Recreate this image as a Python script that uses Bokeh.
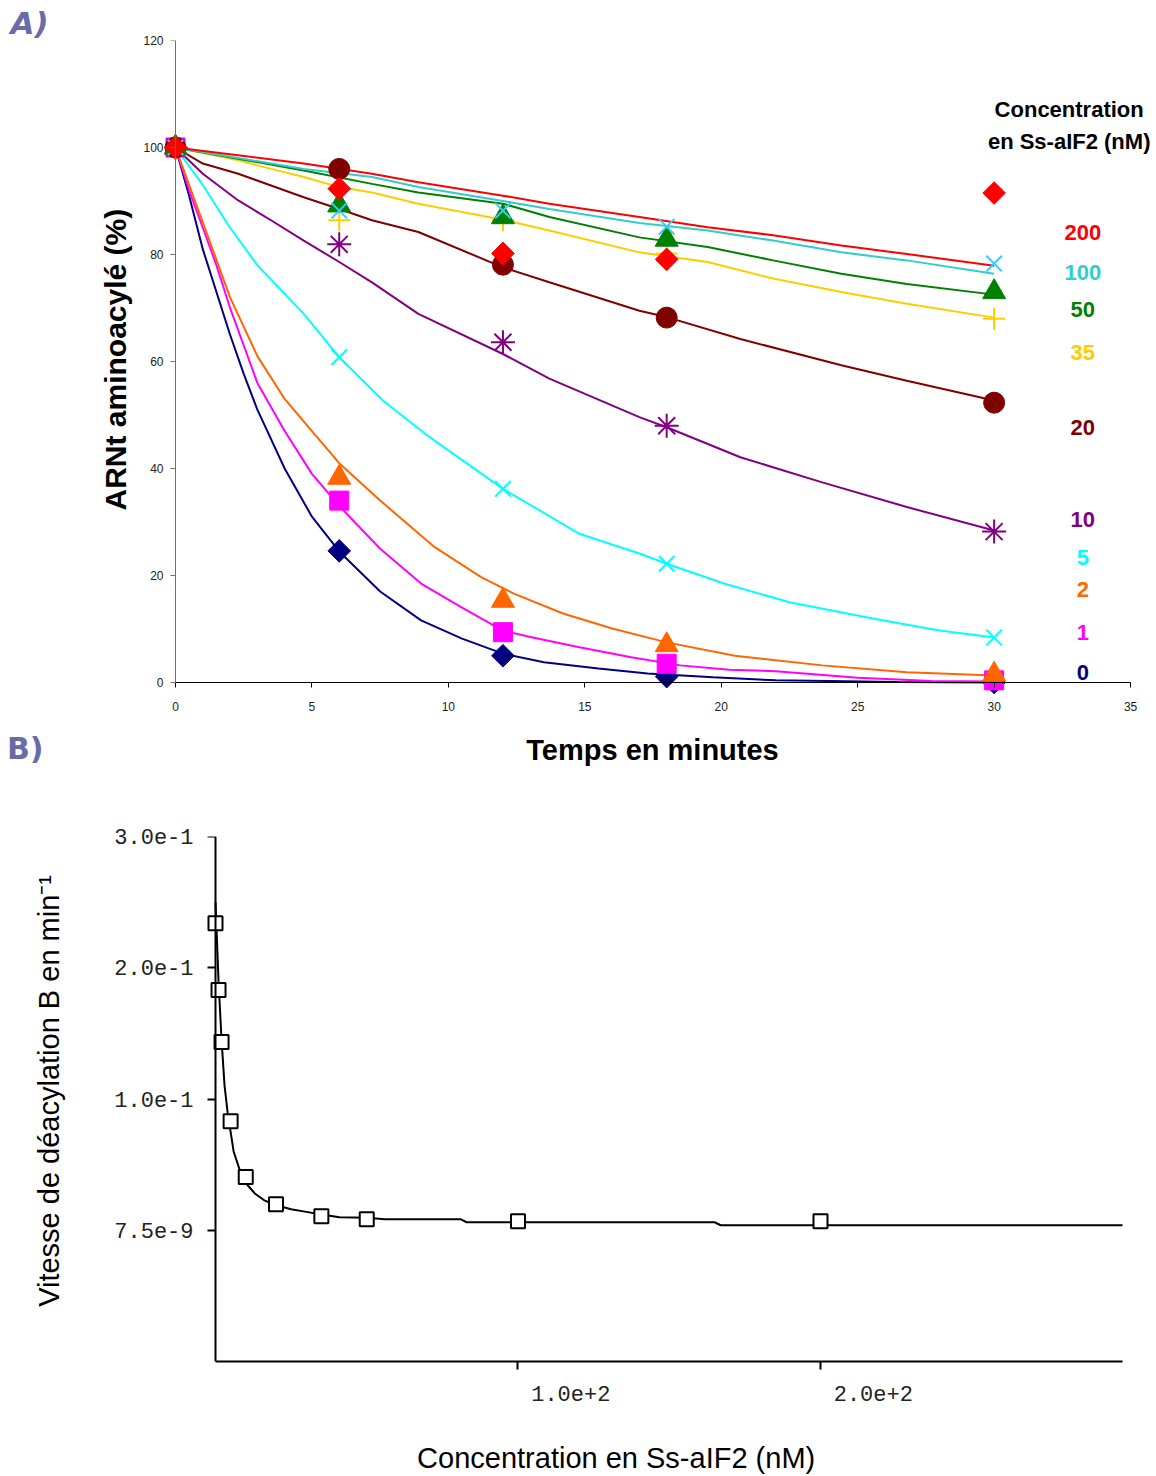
import math
from bokeh.plotting import figure
from bokeh.models import Range1d, FixedTicker, Label, LinearAxis, Title
from bokeh.embed import file_html
from bokeh.resources import INLINE

# ---------------- Data: panel A (remaining aminoacylated tRNA, %) ----------------
times = [0, 6, 12, 18, 30]
conc_labels = ["0", "1", "2", "5", "10", "20", "35", "50", "100", "200"]

obs_0 = [100, 24.6, 5.0, 1.1, 0.0]
obs_1 = [100, 34.0, 9.4, 3.5, 0.4]
obs_2 = [100, 38.3, 15.3, 7.0, 1.5]
obs_5 = [100, 60.8, 36.2, 22.2, 8.4]
obs_10 = [100, 81.9, 63.6, 48.0, 28.2]
obs_20 = [100, 96.0, 78.1, 68.2, 52.3]
obs_35 = [100, 86.4, 86.4, 80.2, 68.0]
obs_50 = [100, 89.2, 87.0, 82.8, 73.0]
obs_100 = [100, 88.2, 88.2, 85.2, 78.3]
obs_200 = [100, 92.3, 80.2, 79.1, 91.5]

fit_t_0 = [0, 0.5, 1, 1.5, 2, 2.5, 3, 4, 5, 6, 7.5, 9, 10.5, 12, 13.5, 15.5, 17.3, 19.7, 22, 26.5, 30]
fit_v_0 = [100, 91, 81, 73, 65, 57.7, 51, 40, 31, 24.5, 17, 11.6, 8.2, 5.4, 3.8, 2.6, 1.7, 1.0, 0.4, 0.1, 0]
fit_t_1 = [0, 0.5, 1, 1.5, 2, 3, 4, 5, 6, 7.5, 9, 10.5, 12, 13, 14.8, 16.7, 18.5, 20.3, 22, 25, 27.7, 30]
fit_v_1 = [100, 92, 85, 78, 70, 56, 47, 39, 33, 25, 18.5, 14, 9.7, 8.5, 6.6, 4.7, 3.2, 2.4, 2.1, 0.9, 0.3, 0.2]
fit_t_2 = [0, 1, 2, 3, 4, 5, 6, 7.5, 9.5, 11.2, 12.4, 14.2, 16, 18, 20.5, 23.7, 26.8, 30]
fit_v_2 = [100, 86, 72, 61, 53, 47, 41, 34, 25.3, 19.7, 16.6, 12.9, 10.1, 7.5, 5.0, 3.2, 1.9, 1.3]
fit_t_5 = [0, 1, 2, 3, 4.7, 6, 7.6, 9.3, 12, 14.8, 17, 18, 20.1, 22.5, 25.6, 28, 30]
fit_v_5 = [100, 93, 85, 78, 68.9, 60.8, 52.7, 45.9, 36.2, 27.8, 24.1, 22.2, 18.5, 15, 11.9, 9.7, 8.4]
fit_t_10 = [0, 1, 2.3, 3.5, 4.7, 6, 7.2, 8.9, 12, 13.7, 17, 18, 20.7, 23.7, 26.8, 30]
fit_v_10 = [100, 95.1, 90.1, 86.4, 82.6, 78.6, 74.8, 68.9, 61.4, 56.8, 49.6, 47.7, 42.1, 37.4, 32.8, 28.4]
fit_t_20 = [0, 1, 2.3, 3.5, 4.7, 6, 7.2, 8.9, 12, 13.7, 17, 18, 20.7, 24.4, 26.8, 30]
fit_v_20 = [100, 97, 95.1, 92.9, 90.7, 88.5, 86.4, 84.2, 77.6, 74.8, 69.5, 68.3, 64.2, 59.3, 56.4, 52.7]
fit_t_35 = [0, 2.3, 3.5, 4.7, 6, 7.2, 8.9, 12, 13.7, 17, 19.5, 21.9, 24.4, 26.8, 30]
fit_v_35 = [100, 97.6, 96, 94.5, 92.6, 91.6, 89.5, 86.5, 84.5, 80.4, 78.6, 75.5, 73, 70.8, 68.2]
fit_t_50 = [0, 2.3, 4.7, 7.2, 8.9, 12, 13.7, 17, 19.5, 21.9, 24.4, 26.8, 30]
fit_v_50 = [100, 97.9, 95.7, 93.2, 91.6, 89.5, 87, 83.2, 81.4, 78.9, 76.4, 74.5, 72.5]
fit_t_100 = [0, 4.7, 7.2, 8.9, 12, 13.7, 17, 19.5, 21.9, 24.4, 26.8, 30]
fit_v_100 = [100, 96, 94.5, 92.6, 90, 88.5, 85.9, 84.5, 82.6, 80.4, 78.9, 76.4]
fit_t_200 = [0, 4.7, 7.2, 8.9, 12, 13.7, 17, 19.5, 21.9, 24.4, 26.8, 30]
fit_v_200 = [100, 97, 95.1, 93.5, 91, 89.5, 87, 85.1, 83.6, 81.7, 80.1, 77.9]

x_ticks_a = [0, 5, 10, 15, 20, 25, 30, 35]
y_ticks_a = [0, 20, 40, 60, 80, 100, 120]

# ---------------- Data: panel B (deacylation rate vs concentration) ----------------
conc_b = [0, 1, 2, 5, 10, 20, 35, 50, 100, 200]
rate_b = [0.234, 0.183, 0.1435, 0.083, 0.0406, 0.0198, 0.0107, 0.0084, 0.0069, 0.0069]
curve_c = [0, 1, 2, 3, 4, 5, 6, 8, 10, 13, 16, 20, 25, 30, 35, 41, 50, 56, 81, 83, 165, 167, 300]
curve_b = [0.25, 0.19, 0.145, 0.11, 0.09, 0.075, 0.06, 0.046, 0.036, 0.028, 0.023, 0.019, 0.016,
           0.014, 0.012, 0.0099, 0.0095, 0.0084, 0.0084, 0.0061, 0.0061, 0.0038, 0.0038]
y_ticks_b = [0, 0.1, 0.2, 0.3]
y_tick_labels_b = ["7.5e-9", "1.0e-1", "2.0e-1", "3.0e-1"]
x_ticks_b = [100, 200]
x_tick_labels_b = ["1.0e+2", "2.0e+2"]

# ---------------- Styles ----------------
obs_all = [obs_0, obs_1, obs_2, obs_5, obs_10, obs_20, obs_35, obs_50, obs_100, obs_200]
fit_t_all = [fit_t_0, fit_t_1, fit_t_2, fit_t_5, fit_t_10, fit_t_20, fit_t_35, fit_t_50, fit_t_100, fit_t_200]
fit_v_all = [fit_v_0, fit_v_1, fit_v_2, fit_v_5, fit_v_10, fit_v_20, fit_v_35, fit_v_50, fit_v_100, fit_v_200]
line_colors = ["#000080", "#FF00FF", "#FF6600", "#00FFFF", "#800080", "#800000", "#FFCC00", "#008000", "#33CCCC", "#FF0000"]
marker_colors = ["#000080", "#FF00FF", "#FF6600", "#00FFFF", "#800080", "#800000", "#FFCC00", "#008000", "#33CCFF", "#FF0000"]
label_colors = ["#000080", "#FF00FF", "#FF6600", "#00FFFF", "#800080", "#800000", "#FFCC00", "#008000", "#33CCCC", "#FF0000"]
markers = ["square", "square", "triangle", "x", "asterisk", "circle", "cross", "triangle", "x", "square"]
angles = [math.pi / 4, 0, 0, 0, 0, 0, 0, 0, 0, math.pi / 4]
sizes = [16, 19, 23, 22, 24, 21, 22, 23, 22, 16]
label_pos_y = [1.9, 9.3, 17.4, 23.4, 30.5, 47.7, 61.7, 69.7, 76.6, 84.1]

FONT = "Liberation Sans"
PANEL_COLOR = "#6B6BA8"
NB = "\u00a0"

# ---------------- Panel A ----------------
pA = figure(width=1156, height=810, x_range=Range1d(-0.403, 35.95), y_range=Range1d(-16.45, 120),
            output_backend="svg", toolbar_location=None, title=None,
            x_axis_location=None, y_axis_location=None,
            min_border_left=164, min_border_right=0, min_border_top=40, min_border_bottom=40)
pA.outline_line_color = None
pA.grid.visible = False

for i in range(len(conc_labels)):
    pA.line(fit_t_all[i], fit_v_all[i], line_color=line_colors[i], line_width=2)

for i in range(len(conc_labels)):
    m = markers[i]
    if m in ("x", "asterisk", "cross"):
        pA.scatter(times, obs_all[i], marker=m, size=sizes[i], line_color=marker_colors[i],
                   line_width=2, fill_color=None)
    else:
        pA.scatter(times, obs_all[i], marker=m, size=sizes[i], angle=angles[i],
                   fill_color=marker_colors[i], line_color=marker_colors[i], line_width=1)

# y tick labels + y title (left panel, nearest the frame)
yLabA = LinearAxis(ticker=FixedTicker(ticks=y_ticks_a), axis_line_color=None,
                   major_tick_line_color=None, minor_tick_line_color=None,
                   major_tick_in=0, major_tick_out=0, major_label_standoff=1,
                   major_label_text_font=FONT, major_label_text_font_size="12px",
                   major_label_text_color="#222222",
                   axis_label=NB * 11 + "ARNt aminoacylé (%)", axis_label_standoff=8,
                   axis_label_text_font=FONT, axis_label_text_font_style="bold",
                   axis_label_text_font_size="30px", axis_label_text_color="black")
pA.add_layout(yLabA, "left")

# panel letter "B)" carried by a label-only axis on the left
panel_b_tick = [-12.3]
letterB = LinearAxis(ticker=FixedTicker(ticks=panel_b_tick), major_label_overrides={panel_b_tick[0]: "B)"},
                     axis_line_color=None, major_tick_line_color=None, minor_tick_line_color=None,
                     major_tick_in=0, major_tick_out=0, major_label_standoff=53,
                     major_label_text_font="DejaVu Sans", major_label_text_font_style="bold",
                     major_label_text_font_size="30px", major_label_text_color=PANEL_COLOR)
pA.add_layout(letterB, "left")

# axis lines and ticks at x=0 / y=0
yaxA = LinearAxis(fixed_location=0, bounds=(0, 120), ticker=FixedTicker(ticks=y_ticks_a),
                  major_label_overrides={t: "" for t in y_ticks_a}, major_label_standoff=0,
                  major_label_text_font_size="1px")
yaxA.axis_line_color = "#707070"
yaxA.major_tick_line_color = "#707070"
yaxA.minor_tick_line_color = None
yaxA.major_tick_in = 0
yaxA.major_tick_out = 5
pA.add_layout(yaxA, "left")

xaxA = LinearAxis(fixed_location=0, bounds=(0, 35), ticker=FixedTicker(ticks=x_ticks_a))
xaxA.major_label_text_font = FONT
xaxA.major_label_text_font_size = "12px"
xaxA.major_label_text_color = "#222222"
xaxA.minor_tick_line_color = None
xaxA.major_tick_in = 0
xaxA.major_tick_out = 5
xaxA.axis_line_color = "black"
xaxA.major_tick_line_color = "black"
xaxA.major_label_standoff = 15
pA.add_layout(xaxA, "below")

# panel letter "A)"
pA.add_layout(Title(text="A)", align="left", offset=-154, standoff=0,
                    text_font="DejaVu Sans", text_font_style="bold italic", text_font_size="31px",
                    text_color=PANEL_COLOR), "above")

pA.add_layout(Label(x=17.48, y=-12.7, text="Temps en minutes", text_align="center", text_baseline="middle",
                    text_font=FONT, text_font_style="bold", text_font_size="29px", text_color="black"))

pA.add_layout(Label(x=32.75, y=107.1, text="Concentration", text_align="center", text_baseline="middle",
                    text_font=FONT, text_font_style="bold", text_font_size="22px", text_color="black"))
pA.add_layout(Label(x=32.75, y=101.1, text="en Ss-aIF2 (nM)", text_align="center", text_baseline="middle",
                    text_font=FONT, text_font_style="bold", text_font_size="22px", text_color="black"))
for i in range(len(conc_labels)):
    pA.add_layout(Label(x=33.25, y=label_pos_y[i], text=conc_labels[i], text_align="center",
                        text_baseline="middle", text_font=FONT, text_font_style="bold",
                        text_font_size="22px", text_color=label_colors[i]))

# ---------------- Panel B ----------------
pB = figure(width=1156, height=666, x_range=Range1d(-2.975, 299.84), y_range=Range1d(-0.1, 0.3),
            output_backend="svg", toolbar_location=None, title=None,
            x_axis_location=None, y_axis_location=None,
            min_border_left=206, min_border_right=34, min_border_top=26, min_border_bottom=115)
pB.outline_line_color = None
pB.grid.visible = False

pB.line(curve_c, curve_b, line_color="black", line_width=2)
pB.scatter(conc_b, rate_b, marker="square", size=14, fill_color="white", line_color="black", line_width=2)

# y tick labels + y title
yLabB = LinearAxis(ticker=FixedTicker(ticks=y_ticks_b),
                   major_label_overrides={t: s for t, s in zip(y_ticks_b, y_tick_labels_b)},
                   axis_line_color=None, major_tick_line_color=None, minor_tick_line_color=None,
                   major_tick_in=0, major_tick_out=0, major_label_standoff=13,
                   major_label_text_font="Liberation Mono", major_label_text_font_size="22px",
                   major_label_text_color="#222222",
                   axis_label=NB * 2 + "Vitesse de déacylation B en min\u207b\u00b9", axis_label_standoff=46,
                   axis_label_text_font=FONT, axis_label_text_font_style="normal",
                   axis_label_text_font_size="29px", axis_label_text_color="black")
pB.add_layout(yLabB, "left")

yaxB = LinearAxis(fixed_location=0, bounds=(-0.1, 0.3), ticker=FixedTicker(ticks=y_ticks_b),
                  major_label_overrides={t: "" for t in y_ticks_b}, major_label_standoff=0,
                  major_label_text_font_size="1px")
pad = NB * 8
xaxB = LinearAxis(bounds=(0, 300), ticker=FixedTicker(ticks=x_ticks_b),
                  major_label_overrides={t: pad + s for t, s in zip(x_ticks_b, x_tick_labels_b)},
                  major_label_text_font="Liberation Mono", major_label_text_font_size="22px",
                  major_label_text_color="#222222", major_label_standoff=13,
                  axis_label="Concentration en Ss-aIF2 (nM)" + NB * 12, axis_label_standoff=31,
                  axis_label_text_font=FONT, axis_label_text_font_style="normal",
                  axis_label_text_font_size="29px", axis_label_text_color="black")
for ax in (xaxB, yaxB):
    ax.axis_line_color = "black"
    ax.axis_line_width = 2
    ax.major_tick_line_color = "black"
    ax.major_tick_line_width = 2
    ax.major_tick_in = 0
    ax.major_tick_out = 8
    ax.minor_tick_line_color = None
pB.add_layout(yaxB, "left")
pB.add_layout(xaxB, "below")

open("out.html", "w").write(file_html([pA, pB], INLINE))
